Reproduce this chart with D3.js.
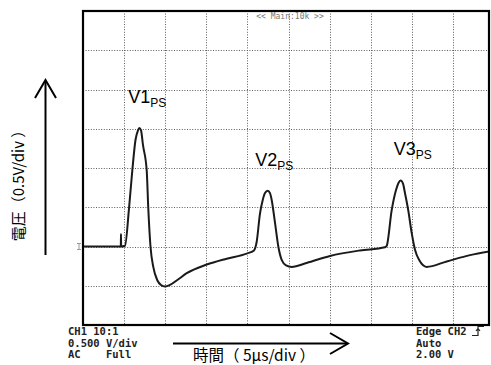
<!DOCTYPE html>
<html>
<head>
<meta charset="utf-8">
<script src="https://cdn.jsdelivr.net/npm/d3@7"></script>
<style>
  html, body { margin: 0; padding: 0; background: #fff; }
  svg { display: block; }
</style>
</head>
<body>
<svg id="scope" width="491" height="365"></svg>
<script>
// Captured trace: time in microseconds, voltage in volts
const timesUs = [0, 4.50, 4.60, 4.62, 4.64, 5.11, 5.60, 6.00, 6.39, 6.69, 6.85, 7.06, 7.30, 7.75, 7.94, 8.21,
  8.55, 9.04, 9.49, 9.98, 10.58, 11.56, 12.62, 15.05, 17.48, 19.91, 20.80, 21.13, 21.53, 21.86, 22.14,
  22.47, 22.75, 22.96, 23.36, 23.76, 24.17, 24.70, 25.39, 27.21, 30.05, 33.70, 36.74, 36.95, 37.55,
  38.08, 38.38, 38.65, 38.93, 39.17, 39.57, 39.99, 40.39, 40.88, 41.81, 44.25, 47.08, 49.60];
const volts = [0, 0, 0, 0.16, 0, 0.01, 0.49, 0.97, 1.36, 1.48, 1.51, 1.48, 1.29, 0.97, 0.49, 0.0,
  -0.26, -0.43, -0.49, -0.51, -0.49, -0.42, -0.34, -0.23, -0.155, -0.09, -0.05, 0.06, 0.42, 0.59, 0.68,
  0.71, 0.68, 0.59, 0.30, 0.0, -0.17, -0.24, -0.26, -0.21, -0.12, -0.05, -0.01, 0.01, 0.46,
  0.72, 0.81, 0.84, 0.80, 0.68, 0.46, 0.17, -0.04, -0.17, -0.26, -0.19, -0.11, -0.06];

// Grid: 5 us/div horizontally, 0.5 V/div vertically
const timeGrid = [5, 10, 15, 20, 25, 30, 35, 40, 45];
const voltGrid = [-0.5, 0, 0.5, 1.0, 1.5, 2.0, 2.5];

// Peak labels
const peakNames = ["V1", "V2", "V3"];
const peakSub = "PS";
const peakLabelTimes = [5.5, 20.95, 37.8];
const peakLabelVolts = [1.83, 1.03, 1.16];

// Readout texts
const leftReadout = ["CH1 10:1", "0.500 V/div", "AC    Full"];
const rightReadout = ["Edge CH2", "Auto", "2.00 V"];
const topReadout = "<< Main:10k >>";
const xTitle = "時間（ 5µs/div ）";
const yTitle = "電圧（0.5V/div ）";

const svg = d3.select("#scope");
const plotL = 83, plotT = 11, plotR = 489, plotB = 325;

const x = d3.scaleLinear().domain([0, 50]).range([plotL, plotL + 411]);
const y = d3.scaleLinear().domain([-1, 3]).range([plotB, plotT]);

// dotted graticule
const grid = svg.append("g").attr("stroke", "#5c5c5c").attr("stroke-width", 1)
  .attr("stroke-dasharray", "1,1.6");
grid.selectAll("line.v").data(timeGrid).join("line").attr("class", "v")
  .attr("x1", d => Math.round(x(d)) + 0.5).attr("x2", d => Math.round(x(d)) + 0.5)
  .attr("y1", plotT).attr("y2", plotB);
grid.selectAll("line.h").data(voltGrid).join("line").attr("class", "h")
  .attr("y1", d => Math.round(y(d)) + 0.5).attr("y2", d => Math.round(y(d)) + 0.5)
  .attr("x1", plotL).attr("x2", plotR);

// trace
svg.append("clipPath").attr("id", "plotclip").append("rect")
  .attr("x", plotL).attr("y", plotT).attr("width", plotR - plotL).attr("height", plotB - plotT);
const pts = timesUs.map((t, i) => [t, volts[i]]);
const line = d3.line().x(d => x(d[0])).y(d => y(d[1])).curve(d3.curveMonotoneX);
svg.append("path").attr("d", line(pts)).attr("clip-path", "url(#plotclip)")
  .attr("fill", "none").attr("stroke", "#1a1a1a").attr("stroke-width", 2)
  .attr("stroke-linejoin", "round");

// frame
svg.append("rect").attr("x", plotL).attr("y", plotT).attr("width", plotR - plotL).attr("height", plotB - plotT)
  .attr("fill", "none").attr("stroke", "#000").attr("stroke-width", 2.2);

// ground marker
const g0 = y(0);
svg.append("path").attr("d", `M${plotL - 4},${g0 - 3}V${g0 + 3}M${plotL - 6},${g0 - 3}H${plotL - 2}M${plotL - 6},${g0 + 3}H${plotL - 2}`)
  .attr("stroke", "#999").attr("stroke-width", 1).attr("fill", "none");

// top readout
svg.append("text").attr("x", 290).attr("y", 19).attr("text-anchor", "middle")
  .attr("font-family", "DejaVu Sans Mono").attr("font-size", 8).attr("fill", "#777")
  .text(topReadout);

// peak labels
peakNames.forEach((n, i) => {
  const t = svg.append("text").attr("x", x(peakLabelTimes[i])).attr("y", y(peakLabelVolts[i]))
    .attr("font-family", "Liberation Sans, Arial, sans-serif").attr("font-size", 18).attr("fill", "#000");
  t.append("tspan").text(n);
  t.append("tspan").attr("font-size", 12).attr("dy", 4).text(peakSub);
});

// scope readouts
const mono = "DejaVu Sans Mono";
leftReadout.forEach((s, i) => {
  svg.append("text").attr("x", 68).attr("y", 335 + i * 11.5).attr("font-family", mono)
    .attr("font-size", 10.5).attr("font-weight", "bold").attr("fill", "#222")
    .attr("xml:space", "preserve").style("white-space", "pre").text(s);
});
rightReadout.forEach((s, i) => {
  svg.append("text").attr("x", 416).attr("y", 335 + i * 11.5).attr("font-family", mono)
    .attr("font-size", 10.5).attr("font-weight", "bold").attr("fill", "#222").text(s);
});
// rising-edge trigger symbol
svg.append("path").attr("d", "M472,335.5H478V326.5H484M478,333V329M476,331L478,328.5L480,331")
  .attr("fill", "none").attr("stroke", "#222").attr("stroke-width", 1.2);

// axis arrows
const arrows = svg.append("g").attr("stroke", "#000").attr("stroke-width", 2).attr("fill", "none");
arrows.append("path").attr("d", "M45.5,255V81");
arrows.append("path").attr("d", "M35,98L45.5,80L56,98");
arrows.append("path").attr("d", "M173,343.5H347");
arrows.append("path").attr("d", "M330,333L348,343.5L330,354");

const cjk = "Noto Sans CJK JP, sans-serif";
svg.append("text").attr("x", 193).attr("y", 361).attr("font-family", cjk)
  .attr("font-size", 15.5).attr("fill", "#000").style("white-space", "pre").text(xTitle);
svg.append("text").attr("transform", "translate(17,182) rotate(-90)")
  .attr("text-anchor", "middle").attr("dominant-baseline", "central")
  .attr("font-family", cjk).attr("font-size", 15).attr("fill", "#000")
  .style("white-space", "pre").text(yTitle);
</script>
</body>
</html>
